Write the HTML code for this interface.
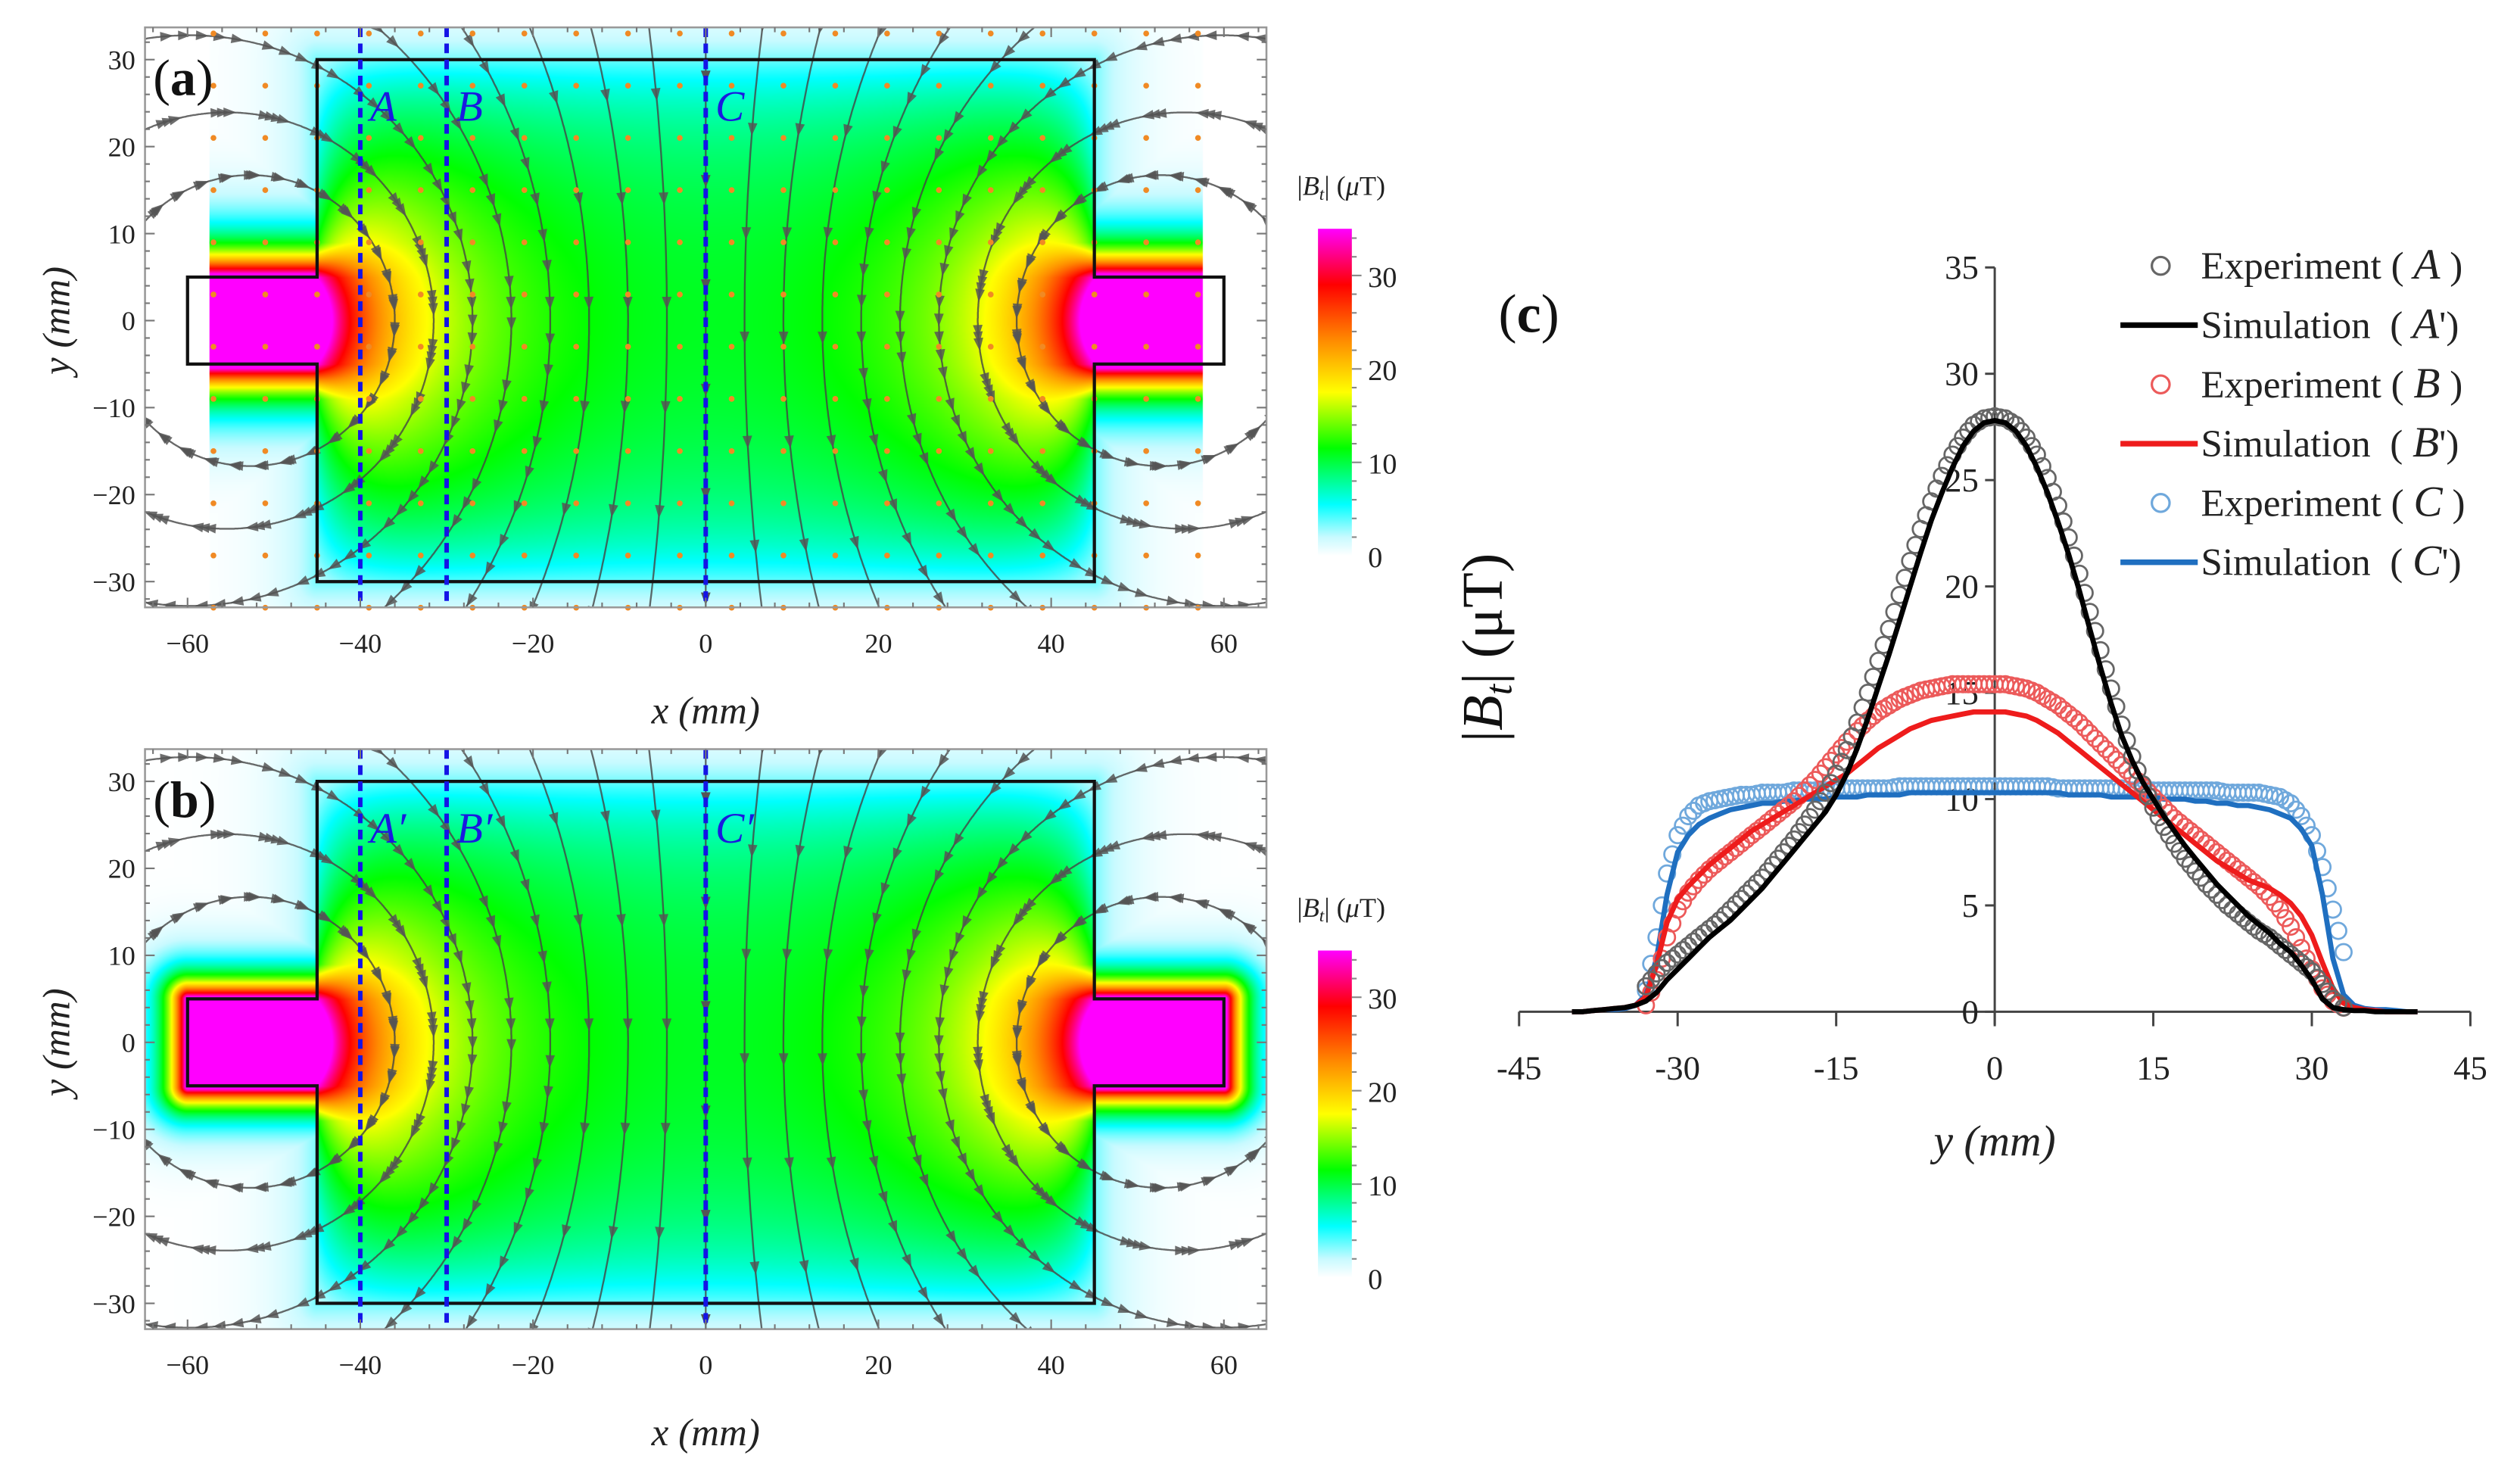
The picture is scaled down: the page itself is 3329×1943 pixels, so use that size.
<!DOCTYPE html>
<html><head><meta charset="utf-8">
<style>
html,body{margin:0;padding:0;background:#fff;overflow:hidden;width:3329px;height:1943px}
#root{position:absolute;left:0;top:0;width:1564px;height:912px;transform-origin:0 0;transform:scale(2.12852,2.128);background:#fff;overflow:hidden}
canvas{position:absolute}
svg{position:absolute;left:0;top:0}
text{font-family:"Liberation Serif",serif}
</style></head><body>
<div id="root">
<canvas id="heatA" style="left:90px;top:17px;width:696px;height:360px" width="1392" height="720"></canvas>
<canvas id="heatB" style="left:90px;top:465px;width:696px;height:360px" width="1392" height="720"></canvas>
<svg id="svg" width="1564" height="912" viewBox="0 0 1564 912"></svg>
</div>
<script>
// ---------- panel (c) data ----------
const yPos = [-40,-39,-38,-37,-36,-35,-34,-33,-32,-31,-30,-29,-28,-27,-26,-25,-24,-23,-22,-21,-20,-19,-18,-17,-16,-15,-14,-13,-12,-11,-10,-9,-8,-7,-6,-5,-4,-3,-2,-1,0,1,2,3,4,5,6,7,8,9,10,11,12,13,14,15,16,17,18,19,20,21,22,23,24,25,26,27,28,29,30,31,32,33,34,35,36,37,38,39,40];
const simA = [0,0,0.05,0.1,0.15,0.2,0.3,0.5,0.9,1.5,2,2.5,3,3.5,3.9,4.3,4.8,5.3,5.8,6.4,7,7.6,8.2,8.8,9.4,10.2,11.2,12.4,13.8,15.3,16.8,18.4,20,21.6,23.1,24.4,25.6,26.6,27.3,27.7,27.8,27.7,27.3,26.6,25.6,24.4,23,21.5,19.8,18,16.2,14.5,13,11.8,10.8,10,9.2,8.5,7.8,7.2,6.6,6,5.5,5,4.5,4.1,3.7,3.2,2.8,2.2,1.5,0.6,0.2,0.1,0.05,0.05,0,0,0,0,0];
const simB = [0,0,0.05,0.1,0.15,0.2,0.3,0.7,2.2,4.2,5.3,5.9,6.4,6.9,7.3,7.7,8.1,8.5,8.8,9.1,9.4,9.7,10,10.3,10.6,10.9,11.2,11.6,12,12.4,12.7,13,13.3,13.5,13.7,13.8,13.9,14,14.1,14.1,14.1,14.1,14,13.9,13.7,13.4,13.1,12.7,12.3,11.9,11.5,11.1,10.7,10.3,9.9,9.5,9.1,8.7,8.3,7.9,7.5,7.1,6.8,6.5,6.2,6,5.8,5.5,5.1,4.5,3.6,2.3,1.1,0.4,0.2,0.1,0.05,0,0,0,0];
const simC = [0,0,0.05,0.1,0.1,0.15,0.3,0.8,2.5,5.5,7.5,8.3,8.8,9.1,9.3,9.5,9.6,9.7,9.8,9.8,9.9,9.9,10,10,10,10.1,10.1,10.1,10.2,10.2,10.2,10.2,10.3,10.3,10.3,10.3,10.3,10.3,10.3,10.3,10.3,10.3,10.3,10.3,10.3,10.3,10.3,10.2,10.2,10.2,10.2,10.1,10.1,10.1,10.1,10.1,10,10,10,9.9,9.9,9.8,9.8,9.7,9.7,9.6,9.5,9.3,9.1,8.6,7.8,5.5,2.5,0.8,0.3,0.15,0.1,0.1,0.05,0,0];
const expPos = [-33,-32,-31,-30,-29,-28,-27,-26,-25,-24,-23,-22,-21,-20,-19,-18,-17,-16,-15,-14,-13,-12,-11,-10,-9,-8,-7,-6,-5,-4,-3,-2,-1,0,1,2,3,4,5,6,7,8,9,10,11,12,13,14,15,16,17,18,19,20,21,22,23,24,25,26,27,28,29,30,31,32,33];
const expA = [1.2,1.8,2.3,2.7,3.1,3.5,3.9,4.3,4.8,5.3,5.8,6.3,6.9,7.5,8.1,8.8,9.5,10.3,11.2,12.3,13.6,15,16.5,18,19.6,21.2,22.7,24,25.2,26.2,27,27.6,27.9,28,27.9,27.6,27,26.2,25.1,23.8,22.3,20.6,18.8,17,15.2,13.5,12,10.7,9.6,8.7,7.9,7.2,6.6,6,5.5,5,4.6,4.2,3.8,3.5,3.1,2.7,2.3,1.9,1.3,0.6,0.2];
const expB = [0.3,1.5,3.5,4.8,5.6,6.2,6.7,7.1,7.5,7.9,8.3,8.7,9.1,9.5,9.9,10.4,10.9,11.5,12.1,12.7,13.2,13.7,14.1,14.4,14.7,14.9,15.1,15.2,15.3,15.4,15.4,15.4,15.4,15.4,15.4,15.3,15.2,15,14.7,14.4,14,13.6,13.1,12.6,12.1,11.6,11.1,10.6,10.1,9.6,9.1,8.7,8.3,7.9,7.5,7.1,6.7,6.3,5.9,5.4,4.8,4,3,2,1.1,0.5,0.2];
const expC = [1,3.5,6.5,8.3,9.2,9.7,9.9,10,10.1,10.2,10.2,10.3,10.3,10.3,10.4,10.4,10.4,10.4,10.5,10.5,10.5,10.5,10.5,10.5,10.6,10.6,10.6,10.6,10.6,10.6,10.6,10.6,10.6,10.6,10.6,10.6,10.6,10.6,10.6,10.5,10.5,10.5,10.5,10.5,10.5,10.5,10.4,10.4,10.4,10.4,10.4,10.4,10.4,10.4,10.4,10.3,10.3,10.3,10.3,10.2,10.1,9.8,9.2,8.3,6.8,4.8,2.8];
const xTicksC = [-45,-30,-15,0,15,30,45];
const yTicksC = [0,5,10,15,20,25,30,35];
// ---------- maps ----------
const mapXTicks = [-60,-40,-20,0,20,40,60];
const mapYTicks = [30,20,10,0,-10,-20,-30];
const cbTicks = [0,10,20,30];
const cutLines = [-40,-30,0];

const NS='http://www.w3.org/2000/svg';
const svg=document.getElementById('svg');
function el(tag,attrs,parent){const e=document.createElementNS(NS,tag);for(const k in attrs)e.setAttribute(k,attrs[k]);(parent||svg).appendChild(e);return e;}
function txt(s,attrs,parent){const t=el('text',attrs,parent);t.textContent=s;return t;}

const stops=[[0,[255,255,255]],[2,[200,250,255]],[5.5,[0,255,255]],[11.5,[0,255,0]],[17.5,[255,255,0]],[23,[255,140,0]],[29,[255,0,0]],[35,[255,0,255]]];
function cmap(v){if(v<=0)return stops[0][1];for(let i=1;i<stops.length;i++){if(v<=stops[i][0]){const a=stops[i-1],b=stops[i];const t=(v-a[0])/(b[0]-a[0]);return [0,1,2].map(k=>a[1][k]+(b[1][k]-a[1][k])*t);}}return stops[stops.length-1][1];}

const SX=5.36,SY=5.4,X0=438;
function field(x,y,exp){
  const ax=Math.abs(x),ay=Math.abs(y);
  const inRect=ax<=45&&ay<=30, inTab=ax>45&&ax<=60&&ay<=5;
  if(exp&&ax>57.5)return 0;
  if(inTab)return 40;
  const a=52,K=280;
  if(inRect){
    const x1=x+a,x2=x-a,r1=x1*x1+y*y,r2=x2*x2+y*y;
    const vx=x1/r1-x2/r2,vy=y/r1-y/r2;
    let v=K*Math.hypot(vx,vy);
    v*=1-0.55*Math.exp(-(30-ay)/5);
    v*=1-0.55*Math.exp(-(45-ax)/4)*Math.min(1,Math.max(0,(ay-5)/4));
    return v;
  }
  const dxr=Math.max(0,ax-45),dyr=Math.max(0,ay-30);
  const dR=Math.hypot(dxr,dyr);
  const dxt=Math.max(0,ax-60,45-ax),dyt=Math.max(0,ay-5);
  const dT=Math.hypot(dxt,dyt);
  const tabDecay=exp?3.2:2.3;
  return Math.max(3.5*Math.exp(-dR/4),40*Math.exp(-dT/tabDecay));
}
function drawHeat(id,y0,exp,top){
  const c=document.getElementById(id),ctx=c.getContext('2d');
  const W=c.width,H=c.height,img=ctx.createImageData(W,H);
  for(let j=0;j<H;j++){for(let i=0;i<W;i++){
    const px=90+i/2,py=top+j/2;
    const x=(px-X0)/SX,y=(y0-py)/SY;
    const col=cmap(field(x,y,exp));
    const o=(j*W+i)*4;img.data[o]=col[0];img.data[o+1]=col[1];img.data[o+2]=col[2];img.data[o+3]=255;
  }}
  ctx.putImageData(img,0,0);
}
drawHeat('heatA',199,true,17);
drawHeat('heatB',647,false,465);

const defs=el('defs',{});
const lg=el('linearGradient',{id:'cbGrad',x1:'0',y1:'1',x2:'0',y2:'0'},defs);
stops.forEach(s=>el('stop',{offset:(s[0]/35).toFixed(3),'stop-color':'rgb('+s[1].map(Math.round).join(',')+')'},lg));

function mapPanel(key,top,y0,showDots,primes){
  const bottom=top+360;
  const g=el('g',{});
  const cp=el('clipPath',{id:'clip'+key},defs);el('rect',{x:90,y:top,width:696,height:360},cp);
  const X=x=>X0+SX*x, Y=y=>y0-SY*y;
  const sl=el('g',{'clip-path':'url(#clip'+key+')',},g);
  const A=50;
  const x0s=[];for(let k=-8;k<=8;k++){if(k!==0)x0s.push(k*4.5);}
  el('line',{x1:X(0),y1:top,x2:X(0),y2:bottom,stroke:'#444','stroke-width':1.1,opacity:0.8},sl);
  for(let y=28;y>-34;y-=12){el('path',{d:`M${X(0)-3},${Y(y)-4} L${X(0)+3},${Y(y)-4} L${X(0)},${Y(y)+4}Z`,fill:'#555'},sl);}
  x0s.forEach(x0=>{
    const x1=A*A/x0,c=(x0+x1)/2,R=Math.abs(x1-x0)/2;
    let d='';const N=1440;
    for(let n=0;n<=N;n++){const th=2*Math.PI*n/N;const px=X(c+R*Math.cos(th)),py=Y(R*Math.sin(th));d+=(n?'L':'M')+px.toFixed(1)+','+py.toFixed(1);}
    el('path',{d:d,fill:'none',stroke:'#444','stroke-width':1.1,opacity:0.8},sl);
    const step=12/R;const base=x0<0?0:Math.PI;
    for(let k=-40;k<=40;k++){
      const th=base+k*step+2/R;
      const mx=c+R*Math.cos(th),my=R*Math.sin(th);
      if(Math.abs(mx)>66||Math.abs(my)>34)continue;
      let tx,ty; if(x0<0){tx=Math.sin(th);ty=-Math.cos(th);}else{tx=-Math.sin(th);ty=Math.cos(th);}
      const sx=tx,sy=-ty;const px=X(mx),py=Y(my);
      const nx=-sy,ny=sx;
      el('path',{d:`M${(px+sx*4).toFixed(1)},${(py+sy*4).toFixed(1)} L${(px-sx*4+nx*3).toFixed(1)},${(py-sy*4+ny*3).toFixed(1)} L${(px-sx*4-nx*3).toFixed(1)},${(py-sy*4-ny*3).toFixed(1)}Z`,fill:'#555',opacity:0.85},sl);
    }
  });
  if(showDots){
    const dg=el('g',{},g);
    for(let x=-57;x<=57;x+=6)for(let y=33;y>=-33;y-=6){el('circle',{cx:X(x),cy:Y(y),r:1.8,fill:'#f08a24'},dg);}
  }
  const pts=[[-45,30],[45,30],[45,5],[60,5],[60,-5],[45,-5],[45,-30],[-45,-30],[-45,-5],[-60,-5],[-60,5],[-45,5]];
  el('path',{d:'M'+pts.map(p=>X(p[0]).toFixed(1)+','+Y(p[1]).toFixed(1)).join('L')+'Z',fill:'none',stroke:'#111','stroke-width':2,},g);
  cutLines.forEach((cx,i)=>{
    el('line',{x1:X(cx),y1:top,x2:X(cx),y2:bottom-4,stroke:'#1414e6','stroke-width':2.8,'stroke-dasharray':'6,4',},g);
    txt(['A','B','C'][i]+(primes?'\u2032':''),{x:X(cx)+6,y:top+58,'font-size':27,'font-style':'italic',fill:'#1a1ae0',},g);
  });
  el('rect',{x:90,y:top,width:696,height:360,fill:'none',stroke:'#999','stroke-width':1.2,},g);
  for(let x=-64;x<=64;x+=4){const maj=x%20===0;const l=maj?6:3;el('line',{x1:X(x),y1:top,x2:X(x),y2:top+l,stroke:'#777','stroke-width':1},g);el('line',{x1:X(x),y1:bottom,x2:X(x),y2:bottom-l,stroke:'#777','stroke-width':1},g);}
  for(let y=-32;y<=32;y+=2){const maj=y%10===0;const l=maj?6:3;el('line',{x1:90,y1:Y(y),x2:90+l,y2:Y(y),stroke:'#777','stroke-width':1},g);el('line',{x1:786,y1:Y(y),x2:786-l,y2:Y(y),stroke:'#777','stroke-width':1},g);}
  mapXTicks.forEach(v=>txt(v<0?'\u2212'+(-v):String(v),{x:X(v),y:bottom+28,'font-size':17,'text-anchor':'middle',fill:'#222',},g));
  mapYTicks.forEach(v=>txt(v<0?'\u2212'+(-v):String(v),{x:84,y:Y(v)+6,'font-size':17,'text-anchor':'end',fill:'#222',},g));
  txt('x (mm)',{x:438,y:bottom+72,'font-size':24,'text-anchor':'middle','font-style':'italic',fill:'#222',},g);
  txt('y (mm)',{x:0,y:0,transform:`translate(43,${y0}) rotate(-90)`,'font-size':24,'text-anchor':'middle','font-style':'italic',fill:'#222',},g);
  const pl=txt('',{x:95,y:top+42,'font-size':32,fill:'#111',},g);
  pl.innerHTML='(<tspan font-weight="bold">'+key+'</tspan>)';
  const cbTop=top+125,cbBot=top+328;const cy=v=>cbBot-(cbBot-cbTop)*v/35;
  el('rect',{x:818,y:cbTop,width:21,height:cbBot-cbTop,fill:'url(#cbGrad)',},g);
  for(let v=2;v<=34;v+=2)el('line',{x1:839,y1:cy(v),x2:v%10===0?845:842,y2:cy(v),stroke:'#888','stroke-width':1},g);
  cbTicks.forEach(v=>txt(String(v),{x:849,y:cy(v)+7,'font-size':18,fill:'#222',},g));
  const ct=txt('',{x:805,y:top+104,'font-size':17,fill:'#222',},g);
  ct.innerHTML='|<tspan font-style="italic">B</tspan><tspan font-size="11" dy="3" font-style="italic">t</tspan><tspan dy="-3">| (</tspan><tspan font-style="italic">\u03bc</tspan>T)';
}
mapPanel('a',17,199,true,false);
mapPanel('b',465,647,false,true);

// ---------- panel (c) ----------
const gc=el('g',{});
const cx0=1238,cxs=6.56,cy0=628,cys=13.2;
const CX=v=>cx0+cxs*v, CY=v=>cy0-cys*v;
el('line',{x1:CX(-45),y1:cy0,x2:CX(45),y2:cy0,stroke:'#444','stroke-width':1.4,},gc);
el('line',{x1:cx0,y1:CY(35),x2:cx0,y2:cy0+8,stroke:'#444','stroke-width':1.4,},gc);
xTicksC.forEach(v=>{el('line',{x1:CX(v),y1:cy0,x2:CX(v),y2:cy0+9,stroke:'#444','stroke-width':1.4},gc);txt(String(v),{x:CX(v),y:cy0+42,'font-size':21,'text-anchor':'middle',fill:'#222',},gc);});
yTicksC.forEach(v=>{el('line',{x1:cx0-6,y1:CY(v),x2:cx0,y2:CY(v),stroke:'#444','stroke-width':1.4},gc);txt(String(v),{x:cx0-10,y:CY(v)+7,'font-size':21,'text-anchor':'end',fill:'#222',},gc);});
txt('y (mm)',{x:1238,y:717,'font-size':27,'text-anchor':'middle','font-style':'italic',fill:'#222',},gc);
const cyt=txt('',{x:0,y:0,transform:'translate(932,402) rotate(-90)','font-size':36,'text-anchor':'middle',fill:'#111',},gc);
cyt.innerHTML='|<tspan font-style="italic">B</tspan><tspan font-size="24" dy="6" font-style="italic">t</tspan><tspan dy="-6">| (\u03bcT)</tspan>';
const plc=txt('',{x:930,y:206,'font-size':34,fill:'#111',},gc);
plc.innerHTML='(<tspan font-weight="bold">c</tspan>)';

function markers(pos,vals,color,name){
  const g=el('g',{},gc);
  pos.forEach((p,i)=>{
    const c=el('circle',{cx:CX(p).toFixed(1),cy:CY(vals[i]).toFixed(1),r:5,fill:'none',stroke:color,'stroke-width':1.3},g);
    
    
    if(i<pos.length-1){
      const c2=el('circle',{cx:CX((p+pos[i+1])/2).toFixed(1),cy:CY((vals[i]+vals[i+1])/2).toFixed(1),r:5,fill:'none',stroke:color,'stroke-width':1.3},g);
      
      
    }
  });
}
function line(pos,vals,color,name){
  const p=el('polyline',{points:pos.map((q,i)=>CX(q).toFixed(1)+','+CY(vals[i]).toFixed(1)).join(' '),fill:'none',stroke:color,'stroke-width':3.2,'stroke-linejoin':'round'},gc);
  
  
}
markers(expPos,expC,'#6fa8dc','exp-c-markers');
line(yPos,simC,'#1f6fc0','sim-c-line');
markers(expPos,expB,'#ec5a5a','exp-b-markers');
line(yPos,simB,'#ee1c1c','sim-b-line');
markers(expPos,expA,'#666','exp-a-markers');
line(yPos,simA,'#000','sim-a-line');

const leg=el('g',{},gc);
const legItems=[['Experiment','A','',true,'#666'],['Simulation','A',"'",false,'#000'],['Experiment','B','',true,'#ec5a5a'],['Simulation','B',"'",false,'#ee1c1c'],['Experiment','C','',true,'#6fa8dc'],['Simulation','C',"'",false,'#1f6fc0']];
legItems.forEach((it,i)=>{
  const y=165+i*36.8;
  const eg=el('g',{},leg);
  
  
  if(it[3])el('circle',{cx:1341,cy:y,r:5.5,fill:'none',stroke:it[4],'stroke-width':1.5},eg);
  else el('line',{x1:1316,y1:y,x2:1364,y2:y,stroke:it[4],'stroke-width':3.5},eg);
  const t=txt('',{x:1366,y:y+8,'font-size':24,fill:'#222'},eg);
  t.innerHTML=it[0]+(it[3]?' ( ':' \u00a0( ')+'<tspan font-style="italic" font-size="27">'+it[1]+'</tspan>'+it[2]+(it[3]?' )':')');
});
</script>
</body></html>
